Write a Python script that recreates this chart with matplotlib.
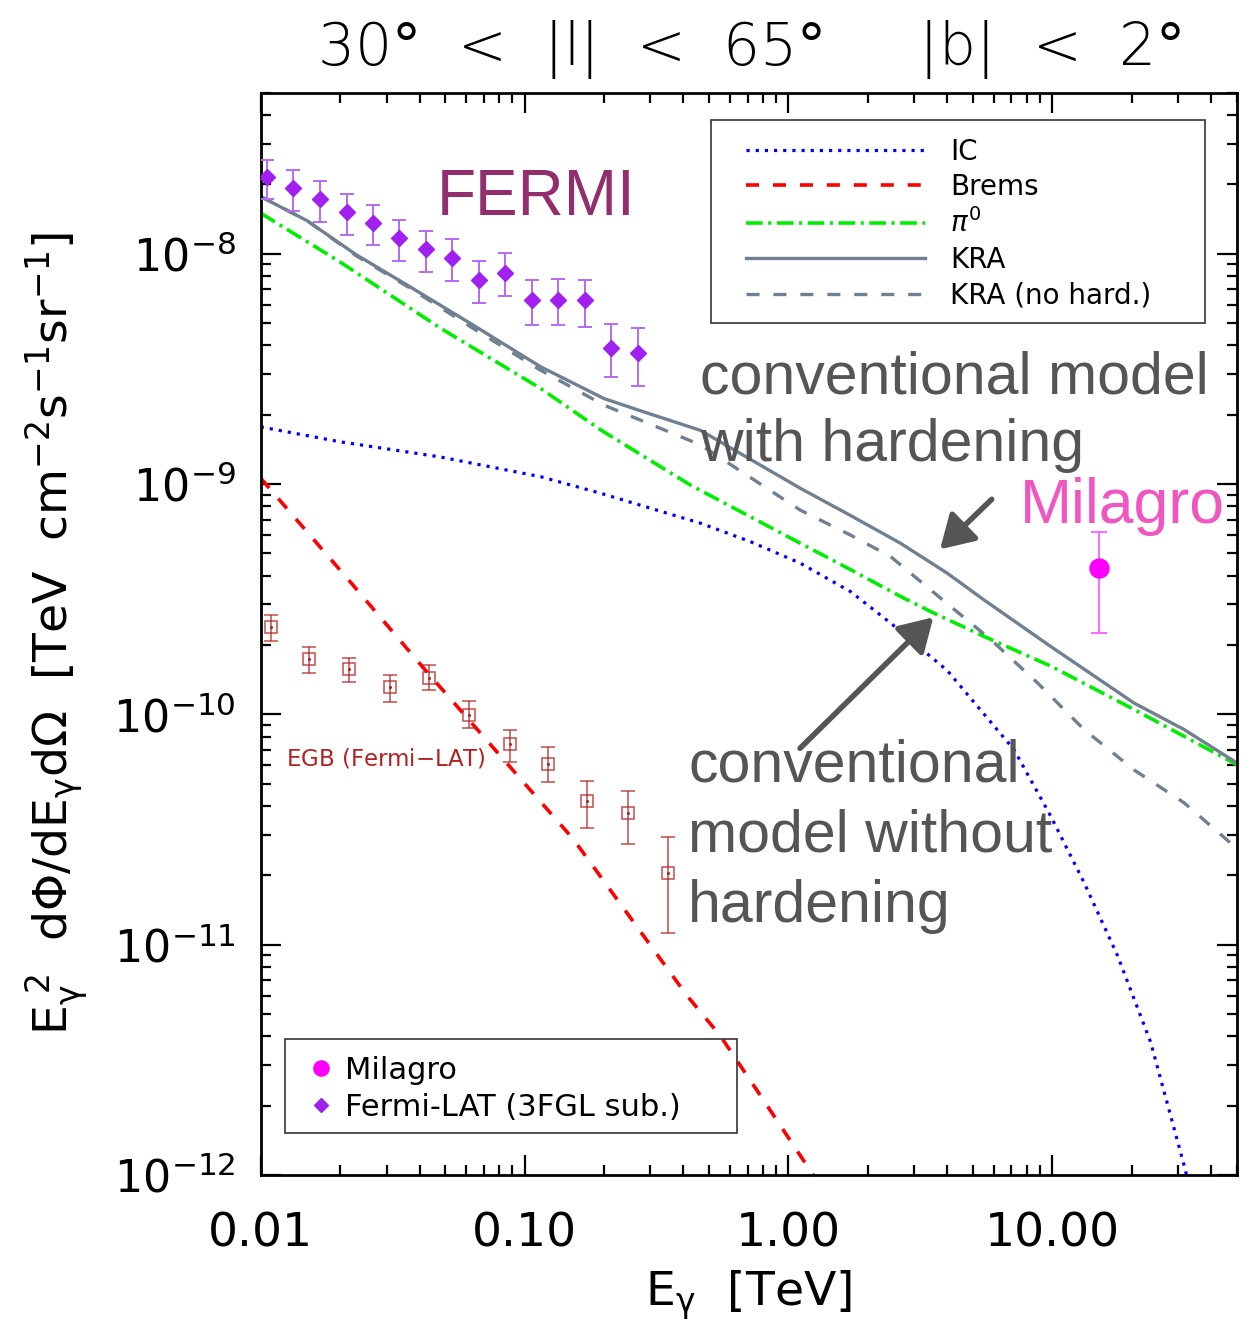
import numpy as np
import matplotlib
matplotlib.use('Agg')
import matplotlib.pyplot as plt
from matplotlib.ticker import FixedLocator, FixedFormatter, LogLocator, NullFormatter
from matplotlib.patches import Rectangle

plt.rcParams['font.family'] = ['DejaVu Sans']
plt.rcParams['mathtext.fontset'] = 'dejavusans'
plt.rcParams['lines.scale_dashes'] = False

# ---------------- data ----------------
# Fermi-LAT (3FGL sub.)
fermi_E = [0.0106, 0.0133, 0.0168, 0.0212, 0.0267, 0.0335, 0.0423, 0.0533,
           0.0671, 0.0845, 0.1063, 0.134, 0.169, 0.213, 0.268]
fermi_F = [2.15e-8, 1.93e-8, 1.72e-8, 1.52e-8, 1.36e-8, 1.165e-8, 1.044e-8, 9.61e-9,
           7.71e-9, 8.27e-9, 6.27e-9, 6.32e-9, 6.27e-9, 3.91e-9, 3.72e-9]
fermi_hi = [2.56e-8, 2.30e-8, 2.06e-8, 1.82e-8, 1.63e-8, 1.40e-8, 1.258e-8, 1.157e-8,
            9.33e-9, 1.003e-8, 7.66e-9, 7.74e-9, 7.72e-9, 4.95e-9, 4.76e-9]
fermi_lo = [1.72e-8, 1.54e-8, 1.37e-8, 1.21e-8, 1.086e-8, 9.33e-9, 8.3e-9, 7.6e-9,
            6.11e-9, 6.53e-9, 4.92e-9, 4.90e-9, 4.81e-9, 2.91e-9, 2.66e-9]

# EGB (Fermi-LAT)
egb_E = [0.0109, 0.0152, 0.0217, 0.0309, 0.0436, 0.0617, 0.0877, 0.1227, 0.1725, 0.2467, 0.3508]
egb_F = [2.39e-10, 1.74e-10, 1.57e-10, 1.32e-10, 1.44e-10, 9.97e-11, 7.41e-11, 6.10e-11,
         4.20e-11, 3.72e-11, 2.05e-11]
egb_hi = [2.69e-10, 1.97e-10, 1.76e-10, 1.48e-10, 1.63e-10, 1.147e-10, 8.52e-11, 7.22e-11,
          5.12e-11, 4.67e-11, 2.94e-11]
egb_lo = [2.08e-10, 1.51e-10, 1.38e-10, 1.135e-10, 1.28e-10, 8.76e-11, 6.19e-11, 5.09e-11,
          3.22e-11, 2.74e-11, 1.12e-11]

# Milagro
milagro_E = [15.1]
milagro_F = [4.31e-10]
milagro_hi = [6.17e-10]
milagro_lo = [2.25e-10]

# model curves
ic_E = [0.01, 0.02, 0.048, 0.115, 0.194, 0.464, 0.718, 1.11, 1.72, 2.44, 4.0, 7.16, 9.87,
        13.2, 17.7, 23.6, 31.6, 35.0]
ic_F = [1.77e-9, 1.525e-9, 1.31e-9, 1.076e-9, 9.12e-10, 6.76e-10, 5.62e-10, 4.53e-10, 3.41e-10,
        2.49e-10, 1.55e-10, 7.03e-11, 3.61e-11, 1.86e-11, 8.93e-12, 3.77e-12, 1.10e-12, 6.9e-13]

brems_E = [0.01, 0.0218, 0.0414, 0.1535, 0.413, 0.552, 0.784, 1.234, 1.5]
brems_F = [1.06e-9, 3.77e-10, 1.589e-10, 2.86e-11, 6.0e-12, 4.02e-12, 2.21e-12, 1.01e-12, 7.2e-13]

pi0_E = [0.01, 0.02, 0.048, 0.115, 0.194, 0.425, 1.11, 1.72, 2.66, 3.56, 5.51, 9.87,
         20.4, 31.6, 50.0]
pi0_F = [1.50e-8, 9.2e-9, 4.75e-9, 2.6e-9, 1.72e-9, 9.9e-10, 5.53e-10, 4.25e-10, 3.25e-10,
         2.75e-10, 2.18e-10, 1.62e-10, 1.05e-10, 8.03e-11, 6.05e-11]

kra_E = [0.01, 0.015, 0.023, 0.036, 0.064, 0.115, 0.2, 0.268, 0.464, 1.11, 1.72, 2.66,
         4.0, 5.51, 9.87, 20.4, 31.6, 50.0]
kra_F = [1.77e-8, 1.39e-8, 9.9e-9, 7.29e-9, 4.89e-9, 3.23e-9, 2.35e-9, 2.1e-9, 1.71e-9,
         9.58e-10, 7.3e-10, 5.53e-10, 4.10e-10, 3.14e-10, 1.97e-10, 1.12e-10, 8.59e-11, 6.16e-11]

kranh_E = [0.01, 0.015, 0.023, 0.036, 0.064, 0.115, 0.2, 0.464, 1.11, 1.72, 2.44, 3.46,
           4.12, 5.85, 8.79, 13.2, 20.4, 31.6, 50.0]
kranh_F = [1.77e-8, 1.39e-8, 9.8e-9, 7.2e-9, 4.73e-9, 3.12e-9, 2.2e-9, 1.48e-9, 7.7e-10,
           6.0e-10, 4.84e-10, 3.47e-10, 2.94e-10, 2.11e-10, 1.37e-10, 8.59e-11, 5.74e-11,
           4.13e-11, 2.62e-11]

xtick_vals = [0.01, 0.1, 1.0, 10.0]
xtick_labels = ['0.01', '0.10', '1.00', '10.00']
ytick_vals = [1e-12, 1e-11, 1e-10, 1e-9, 1e-8]
ytick_labels = [r'$10^{-12}$', r'$10^{-11}$', r'$10^{-10}$', r'$10^{-9}$', r'$10^{-8}$']

# ---------------- figure ----------------
W, H = 1260, 1329
fig = plt.figure(figsize=(W / 100, H / 100), dpi=100)
AX_L, AX_R, AX_T, AX_B = 260.7, 1236.7, 92.7, 1175.0
ax = fig.add_axes([AX_L / W, 1 - AX_B / H, (AX_R - AX_L) / W, (AX_B - AX_T) / H])


def pax(px, py):
    """pixel position in the picture -> axes fraction"""
    return ((px - AX_L) / (AX_R - AX_L), (AX_B - py) / (AX_B - AX_T))


ax.set_xscale('log')
ax.set_yscale('log')
ax.set_xlim(0.01, 50)
ax.set_ylim(1e-12, 5e-8)

slate = '#708090'
l_ic, = ax.plot(ic_E, ic_F, color='#0000FF', lw=2.3, dashes=(2.3, 4.3), label='IC')
l_br, = ax.plot(brems_E, brems_F, color='#FF0000', lw=2.6, dashes=(9.4, 10), label='Brems')
l_pi, = ax.plot(pi0_E, pi0_F, color='#00EE00', lw=2.6, dashes=(12, 4, 2.2, 4), label=r'$\pi^0$')
l_kra, = ax.plot(kra_E, kra_F, color=slate, lw=2.4, label='KRA')
l_nh, = ax.plot(kranh_E, kranh_F, color=slate, lw=2.4, dashes=(9.4, 10), label='KRA (no hard.)')

# EGB
egb_c = '#B22222'
egb_F_a = np.array(egb_F)
ax.errorbar(egb_E, egb_F, yerr=[egb_F_a - np.array(egb_lo), np.array(egb_hi) - egb_F_a],
            fmt='s', mfc='none', mec=egb_c, ms=8.5, mew=1.1, ecolor=egb_c,
            elinewidth=1.1, capsize=5, capthick=1.1, alpha=0.8, zorder=4)
ax.plot(egb_E, egb_F, ls='none', marker='o', ms=1.2, color=egb_c, zorder=4)

# Fermi
fF = np.array(fermi_F)
ax.errorbar(fermi_E, fermi_F, yerr=[fF - np.array(fermi_lo), np.array(fermi_hi) - fF],
            fmt='none', ecolor='#B46AF5', elinewidth=1.4, capsize=5, capthick=1.4, zorder=5)
h_fermi, = ax.plot(fermi_E, fermi_F, ls='none', marker='D', ms=8.3, color='#A020F0',
                   zorder=6, label='Fermi-LAT (3FGL sub.)')

# Milagro
mF = np.array(milagro_F)
ax.errorbar(milagro_E, milagro_F, yerr=[mF - np.array(milagro_lo), np.array(milagro_hi) - mF],
            fmt='none', ecolor='#FF66FF', elinewidth=1.4, capsize=5.5, capthick=1.4, zorder=5)
h_mil, = ax.plot(milagro_E, milagro_F, ls='none', marker='o', ms=13.7, color='#FF00FF',
                 zorder=6, label='Milagro')

# ticks
ax.xaxis.set_major_locator(FixedLocator(xtick_vals))
ax.xaxis.set_major_formatter(FixedFormatter(xtick_labels))
ax.xaxis.set_minor_locator(LogLocator(base=10, subs=np.arange(2, 10)))
ax.xaxis.set_minor_formatter(NullFormatter())
ax.yaxis.set_major_locator(FixedLocator(ytick_vals))
ax.yaxis.set_major_formatter(FixedFormatter(ytick_labels))
ax.yaxis.set_minor_locator(LogLocator(base=10, subs=np.arange(2, 10), numticks=50))
ax.yaxis.set_minor_formatter(NullFormatter())
ax.tick_params(which='both', direction='in', top=True, right=True, width=1.6, colors='black')
ax.tick_params(which='major', length=14.5)
ax.tick_params(which='minor', length=7)
ax.tick_params(axis='x', which='major', labelsize=34, pad=26)
ax.tick_params(axis='y', which='major', labelsize=32, pad=18)
for s in ax.spines.values():
    s.set_linewidth(2.0)

ax.set_xlabel(r'$\mathrm{E_\gamma\ \ [TeV]}$', fontsize=34)
ax.xaxis.set_label_coords(0.5, pax(0, 1268)[1])
ax.xaxis.label.set_va('top')
ax.set_ylabel(r'$\mathrm{E_\gamma^{\ 2}\ \ d\Phi/dE_\gamma d\Omega\ \ [TeV\ \ cm^{-2}s^{-1}sr^{-1}]}$',
              fontsize=34)
ax.yaxis.set_label_coords(pax(90, 0)[0], 0.5)

# title
fig.text(749 / W, 1 - 65 / H, r'30$\degree$  <  |l|  <  65$\degree$     |b|  <  2$\degree$',
         ha='center', va='baseline', fontsize=42, fontweight='light')

# annotations
ann_font = ['Liberation Sans', 'DejaVu Sans']
ax.text(*pax(436.7, 215), 'FERMI', transform=ax.transAxes, fontsize=46, color='#912E6E',
        family=ann_font, ha='left', va='baseline')
ax.text(*pax(1020, 523.3), 'Milagro', transform=ax.transAxes, fontsize=45, color='#F056C0',
        family=ann_font, ha='left', va='baseline')
gray = '#555555'
for txt, px, py in [('conventional model', 700, 393.3), ('with hardening', 700, 460.7),
                    ('conventional', 688.3, 781.7), ('model without', 688.3, 851.7),
                    ('hardening', 688.3, 921.7)]:
    ax.text(*pax(px, py), txt, transform=ax.transAxes, fontsize=42.5, color=gray,
            family=ann_font, ha='left', va='baseline')

for (x0, y0), (x1, y1) in [((991.7, 499.3), (940, 549.3)), ((800, 748.3), (933.3, 617.3))]:
    ax.annotate('', xy=pax(x1, y1), xytext=pax(x0, y0), xycoords='axes fraction',
                textcoords='axes fraction',
                arrowprops=dict(arrowstyle='-|>,head_length=0.5,head_width=0.3',
                                lw=4, color=gray, mutation_scale=40,
                                shrinkA=0, shrinkB=0))

ax.text(*pax(285.7, 765), 'EGB (Fermi$-$LAT)', transform=ax.transAxes, fontsize=16.5,
        color=egb_c, ha='left', va='baseline')

# legend 1 (models)
leg1 = ax.legend(handles=[l_ic, l_br, l_pi, l_kra, l_nh], loc='upper left',
                 bbox_to_anchor=pax(745.7, 137.5), borderaxespad=0, borderpad=0,
                 frameon=False, fontsize=20, handlelength=6.45, handletextpad=0.9,
                 labelspacing=0.27)
ax.add_artist(leg1)
x0, y0 = pax(710.7, 323.3)
x1, y1 = pax(1205, 120)
ax.add_patch(Rectangle((x0, y0), x1 - x0, y1 - y0, transform=ax.transAxes, fill=False,
                       ec='#333333', lw=1.2, zorder=7))

# legend 2 (data)
leg2 = ax.legend(handles=[h_mil, h_fermi], loc='upper left',
                 bbox_to_anchor=pax(308.3, 1056), borderaxespad=0, borderpad=0,
                 frameon=False, fontsize=22, handlelength=0.8, handletextpad=0.4,
                 labelspacing=0.25, markerscale=0.8)
x0, y0 = pax(285, 1133.3)
x1, y1 = pax(737.3, 1039.3)
ax.add_patch(Rectangle((x0, y0), x1 - x0, y1 - y0, transform=ax.transAxes, fill=False,
                       ec='#333333', lw=1.2, zorder=7))

fig.savefig('out.png', dpi=100)
